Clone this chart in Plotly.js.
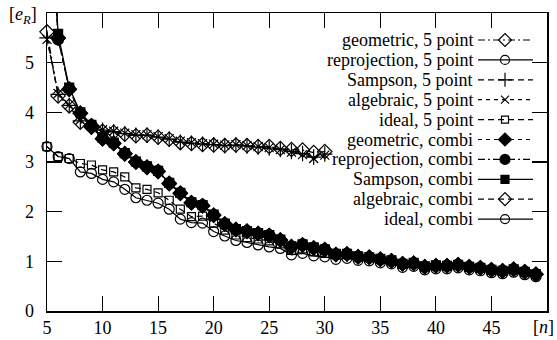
<!DOCTYPE html>
<html>
<head>
<meta charset="utf-8">
<script src="https://cdn.plot.ly/plotly-3.0.1.min.js"></script>
<style>
html,body{margin:0;padding:0;background:#fff;}
#chart{width:557px;height:340px;}
</style>
</head>
<body>
<div id="chart"></div>
<script>
// ---- data ----
const nFive = [5,6,7,8,9,10,11,12,13,14,15,16,17,18,19,20,21,22,23,24,25,26,27,28,29,30];
const nCombi = [5,6,7,8,9,10,11,12,13,14,15,16,17,18,19,20,21,22,23,24,25,26,27,28,29,30,
                31,32,33,34,35,36,37,38,39,40,41,42,43,44,45,46,47,48,49];

const geometric5 = [5.62,4.33,4.13,3.80,3.70,3.62,3.60,3.56,3.53,3.54,3.50,3.46,3.39,3.37,3.35,3.34,3.33,3.34,3.33,3.31,3.31,3.27,3.25,3.24,3.19,3.21];
const reprojection5 = [];
const sampson5 = [5.50,4.36,4.14,3.83,3.71,3.64,3.61,3.57,3.54,3.54,3.50,3.46,3.40,3.38,3.36,3.35,3.33,3.34,3.32,3.30,3.28,3.25,3.21,3.17,3.10,3.16];
const algebraic5 = [5.47,4.38,4.15,3.85,3.72,3.65,3.62,3.58,3.55,3.55,3.51,3.47,3.42,3.39,3.37,3.36,3.34,3.35,3.33,3.31,3.29,3.25,3.20,3.15,3.07,3.14];
const ideal5 = [3.31,3.11,3.07,2.97,2.94,2.84,2.80,2.70,2.48,2.45,2.38,2.23,2.05,1.90,1.91,1.77,1.63,1.53,1.48,1.45,1.41,1.35,1.22,1.25,1.19,1.16];

const geometricCombi = [9.4,5.50,4.46,3.98,3.73,3.47,3.37,3.16,3.00,2.90,2.81,2.56,2.37,2.18,
  2.12,1.93,1.75,1.64,1.60,1.56,1.52,1.43,1.30,1.33,1.27,1.23,1.14,1.15,
  1.09,1.08,1.04,1.01,0.95,0.96,0.89,0.91,0.91,0.93,0.89,0.87,0.83,0.81,0.84,0.79,0.74];
const reprojectionCombi = [9.6,5.47,4.48,3.99,3.74,3.48,3.38,3.17,3.00,2.90,2.82,2.57,2.38,2.18,
  2.13,1.93,1.75,1.64,1.61,1.56,1.53,1.43,1.29,1.34,1.27,1.24,1.14,1.15,
  1.09,1.08,1.04,1.01,0.95,0.96,0.89,0.91,0.91,0.93,0.89,0.87,0.83,0.81,0.84,0.79,0.74];
const sampsonCombi = [9.8,5.58,4.50,4.00,3.75,3.49,3.39,3.18,3.01,2.91,2.82,2.58,2.38,2.19,
  2.13,1.94,1.76,1.65,1.61,1.57,1.53,1.44,1.30,1.34,1.28,1.24,1.15,1.15,
  1.10,1.08,1.05,1.02,0.95,0.97,0.90,0.92,0.91,0.93,0.89,0.87,0.83,0.81,0.84,0.79,0.74];
const algebraicCombi = [9.5,5.49,4.47,3.98,3.73,3.47,3.38,3.17,3.00,2.89,2.81,2.57,2.37,2.18,
  2.12,1.93,1.75,1.64,1.61,1.56,1.52,1.43,1.29,1.33,1.27,1.24,1.14,1.15,
  1.09,1.08,1.04,1.01,0.95,0.96,0.89,0.91,0.91,0.93,0.89,0.87,0.83,0.81,0.84,0.79,0.74];
const idealCombi = [3.31,3.11,3.07,2.80,2.77,2.65,2.60,2.45,2.28,2.23,2.17,2.05,1.85,1.78,
  1.77,1.60,1.51,1.42,1.38,1.33,1.29,1.26,1.13,1.16,1.11,1.09,1.04,1.06,
  1.02,1.01,0.97,0.95,0.88,0.90,0.83,0.85,0.85,0.87,0.83,0.81,0.77,0.75,0.78,0.73,0.69];

const xTicks = [5,10,15,20,25,30,35,40,45];
const yTicks = [0,1,2,3,4,5];

const FONT = '"Liberation Serif", "Times New Roman", Times, "DejaVu Serif", serif';

// ---- series styling ----
const series = [
  {name:'geometric, 5 point',    x:nFive,  y:geometric5,        symbol:'diamond-open',  size:11, dash:'7px,3px,2px,3px', clip:false},
  {name:'reprojection, 5 point', x:nFive,  y:reprojection5,     symbol:'circle-open',   size:10, dash:'solid', clip:false},
  {name:'Sampson, 5 point',      x:nFive,  y:sampson5,          symbol:'cross-thin-open', size:11, dash:'6px,4px', clip:false},
  {name:'algebraic, 5 point',    x:nFive,  y:algebraic5,        symbol:'x-thin-open',   size:9,  dash:'4px,4px', clip:false},
  {name:'ideal, 5 point',        x:nFive,  y:ideal5,            symbol:'square-open',   size:8,  dash:'6px,4px', clip:false},
  {name:'geometric, combi',      x:nCombi, y:geometricCombi,    symbol:'diamond',       size:11, dash:'4px,4px', clip:true},
  {name:'reprojection, combi',   x:nCombi, y:reprojectionCombi, symbol:'circle',        size:11, dash:'7px,3px,2px,3px', clip:true},
  {name:'Sampson, combi',        x:nCombi, y:sampsonCombi,      symbol:'square',        size:9,  dash:'solid', clip:true},
  {name:'algebraic, combi',      x:nCombi, y:algebraicCombi,    symbol:'diamond-open',  size:11, dash:'6px,4px', clip:true},
  {name:'ideal, combi',          x:nCombi, y:idealCombi,        symbol:'circle-open',   size:10, dash:'solid', clip:false}
];

const traces = [];
series.forEach(s => {
  traces.push({
    type:'scatter', mode:'lines+markers', x:s.x, y:s.y, name:s.name, showlegend:false,
    cliponaxis: s.clip,
    line:{color:'black', width:1.2, dash:s.dash},
    marker:{symbol:s.symbol, size:s.size, color:'black', line:{color:'black', width:1.2}},
    hoverinfo:'skip'
  });
});

// ---- hand-built key (text left of the sample, as in the reference) ----
const keyTextRight = 475, keyLineLeft = 478, keyLineRight = 533, keyMarkX = 505;
const keyTop = 40, keyStep = 19.9;
const annotations = [];
series.forEach((s, i) => {
  const yy = keyTop + i * keyStep;
  traces.push({
    type:'scatter', mode:'lines', xaxis:'x2', yaxis:'y2', x:[keyLineLeft, keyLineRight], y:[yy, yy],
    line:{color:'black', width:1.2, dash:s.dash}, showlegend:false, hoverinfo:'skip', cliponaxis:false
  });
  traces.push({
    type:'scatter', mode:'markers', xaxis:'x2', yaxis:'y2', x:[keyMarkX], y:[yy],
    marker:{symbol:s.symbol, size:s.size - 1, color:'black', line:{color:'black', width:1.2}},
    showlegend:false, hoverinfo:'skip', cliponaxis:false
  });
  annotations.push({
    xref:'x2', yref:'y2', x:keyTextRight, y:yy, xanchor:'right', yanchor:'middle',
    text:s.name, showarrow:false, font:{family:FONT, size:18, color:'black'}
  });
});

annotations.push({
  xref:'paper', yref:'paper', x:-0.048, y:0.99, xanchor:'center', yanchor:'middle',
  text:'[<i>e<sub>R</sub></i>]', showarrow:false, font:{family:FONT, size:18, color:'black'}
});
annotations.push({
  xref:'paper', yref:'paper', x:1.018, y:0, xanchor:'right', yanchor:'middle', yshift:-16,
  text:'[<i>n</i>]', showarrow:false, font:{family:FONT, size:18, color:'black'}
});

const axisCommon = {
  showline:true, linecolor:'black', linewidth:1.5, mirror:'ticks',
  ticks:'inside', ticklen:15, tickwidth:1.2, tickcolor:'black',
  showgrid:false, zeroline:false,
  tickfont:{family:FONT, size:18, color:'black'}
};

const layout = {
  width:557, height:340,
  margin:{l:47, r:10, t:13, b:29, pad:0},
  paper_bgcolor:'white', plot_bgcolor:'white',
  showlegend:false,
  font:{family:FONT, size:18, color:'black'},
  xaxis:Object.assign({}, axisCommon, {range:[5,50], tickvals:xTicks, ticktext:xTicks.map(String)}),
  yaxis:Object.assign({}, axisCommon, {range:[0,6], tickvals:yTicks, ticktext:yTicks.map(String), ticklabelstandoff:8}),
  xaxis2:{overlaying:'x', range:[47,547], visible:false, fixedrange:true},
  yaxis2:{overlaying:'y', range:[311,13], visible:false, fixedrange:true},
  annotations:annotations
};

Plotly.newPlot('chart', traces, layout, {staticPlot:true, displayModeBar:false});
</script>
</body>
</html>
